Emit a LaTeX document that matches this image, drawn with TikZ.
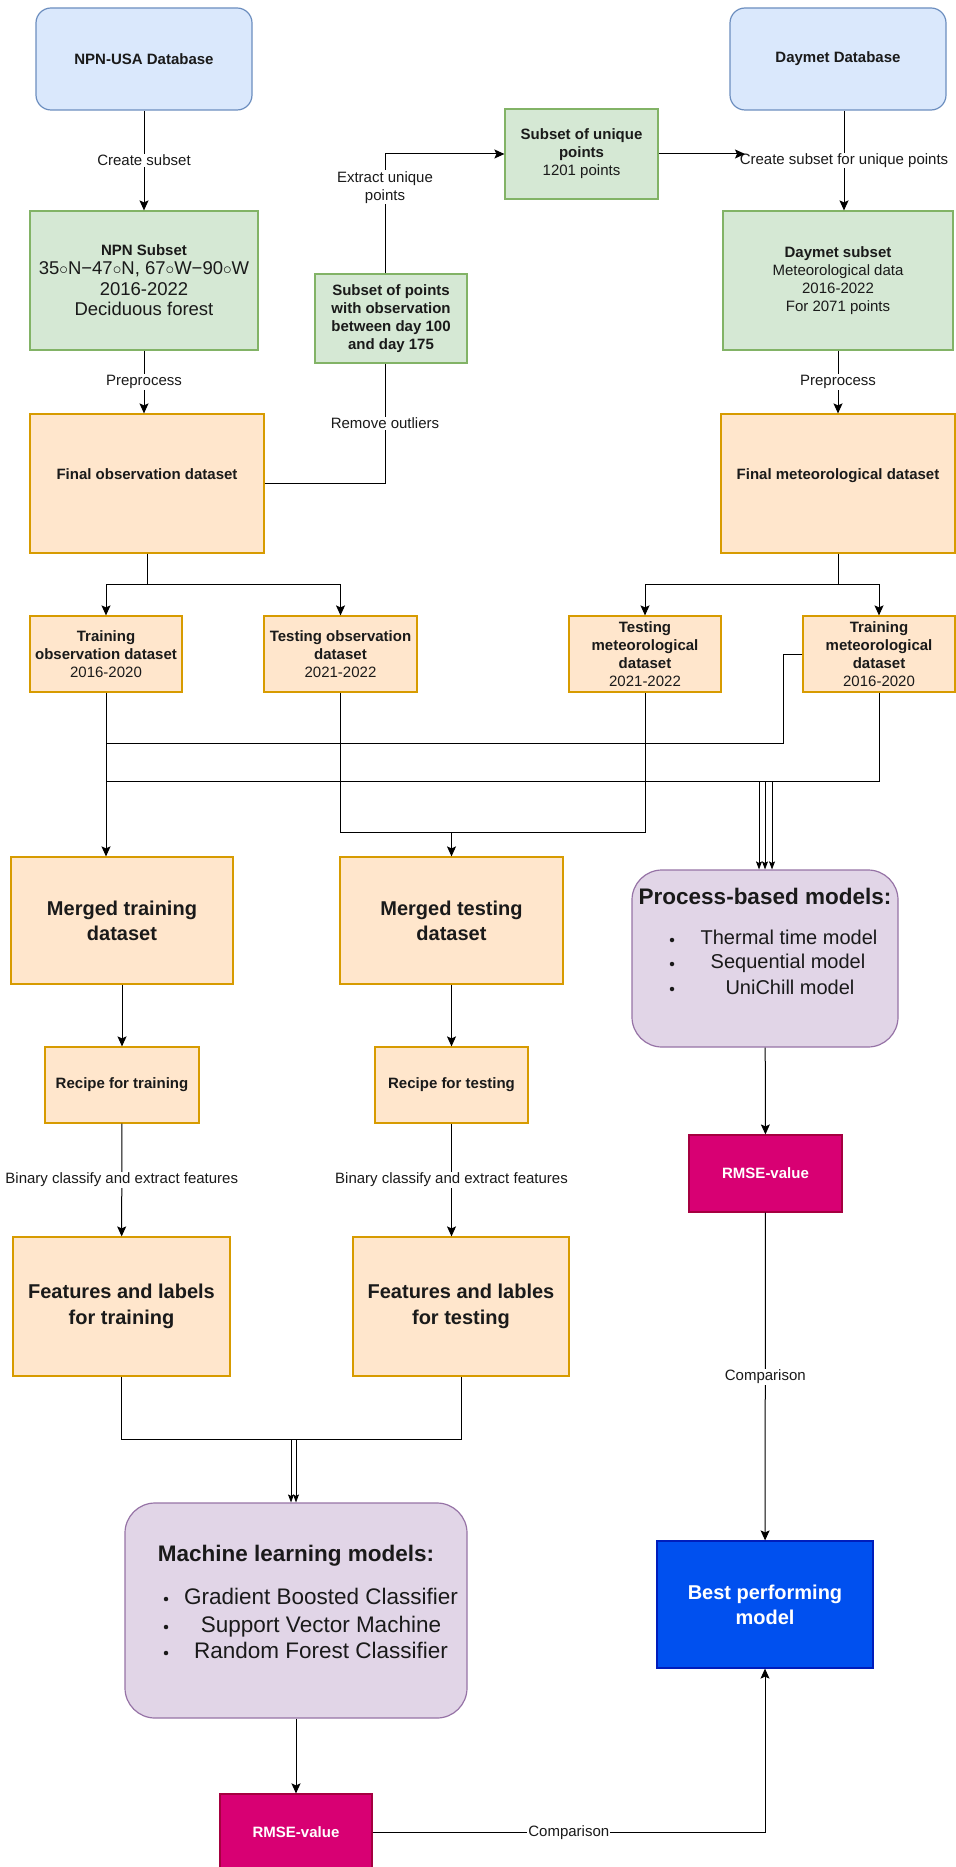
\documentclass[tikz,border=0pt]{standalone}
\usepackage{fontspec}
\setmainfont{Liberation Sans}
\usetikzlibrary{arrows.meta}
\usepackage{xcolor}

\definecolor{bluefill}{HTML}{DAE8FC}
\definecolor{blueline}{HTML}{6C8EBF}
\definecolor{greenfill}{HTML}{D5E8D4}
\definecolor{greenline}{HTML}{82B366}
\definecolor{orangefill}{HTML}{FFE6CC}
\definecolor{orangeline}{HTML}{D79B00}
\definecolor{purplefill}{HTML}{E1D5E7}
\definecolor{purpleline}{HTML}{9673A6}
\definecolor{rmsefill}{HTML}{D80073}
\definecolor{rmseline}{HTML}{A50040}
\definecolor{bestfill}{HTML}{0050EF}
\definecolor{bestline}{HTML}{001DBC}
\definecolor{txt}{HTML}{1A1A1A}

\newcommand{\setfs}[2]{\fontsize{#1}{#2}\selectfont}

\begin{document}
\begin{tikzpicture} [x=1pt,y=-1pt,->,>={Stealth[length=10pt,width=9pt,inset=2pt]},line width=1pt,
  box/.style={rectangle,draw,align=center,inner sep=2pt,line width=1.2pt,text=txt,font=\setfs{15}{18}},
  wh/.style 2 args={minimum width=#1pt,minimum height=#2pt},
  db/.style={box,fill=bluefill,draw=blueline,rounded corners=15pt,font=\setfs{15}{18}\bfseries},
  grn/.style={box,fill=greenfill,draw=greenline},
  org/.style={box,fill=orangefill,draw=orangeline},
  mdl/.style={box,fill=purplefill,draw=purpleline,rounded corners=30pt},
  rmse/.style={box,fill=rmsefill,draw=rmseline,text=white,font=\setfs{15}{18}\bfseries},
  lbl/.style={fill=white,inner sep=1pt,text=txt,align=center,font=\setfs{15}{18}},
  item/.style={anchor=base,inner sep=0pt,text=txt},
  blt/.style={circle,fill=txt,inner sep=0pt,minimum size=4.5pt},
  tri/.style={line width=0.8pt,-{Stealth[length=8pt,width=6pt,inset=1.5pt]}}]

  \useasboundingbox (0,0) rectangle (955,1867);

  \node[db,wh={216}{102}] (npndb) at (144,59) {NPN-USA Database};
  \node[db,wh={216}{102}] (daydb) at (838,59) {Daymet Database};
  \node[grn,wh={228}{139}] (npnsub) at (144,280.5) {\textbf{NPN Subset}\\[1pt] \setfs{18.5}{21}35$\circ$N−47$\circ$N, 67$\circ$W−90$\circ$W\\[2.5pt] \setfs{18.5}{21}2016-2022\\[2.5pt] \setfs{18.5}{21}Deciduous forest};
  \node[grn,wh={152}{89},font=\setfs{15}{18}\bfseries] (ptssub) at (391,318.5) {Subset of points\\ with observation\\ between day 100\\ and day 175};
  \node[grn,wh={153}{90}] (uniq) at (581.5,154) {\textbf{Subset of unique}\\ \textbf{points}\\ 1201 points};
  \node[grn,wh={230}{139}] (daysub) at (838,280.5) {\textbf{Daymet subset}\\ Meteorological data\\ 2016-2022\\ For 2071 points};
  \node[org,wh={234}{139},font=\setfs{15}{18}\bfseries] (finobs) at (147,483.5) {Final observation dataset\\ \mbox{}};
  \node[org,wh={234}{139},font=\setfs{15}{18}\bfseries] (finmet) at (838,483.5) {Final meteorological dataset\\ \mbox{}};
  \node[org,wh={152}{76}] (trobs) at (106,654) {\textbf{Training}\\ \textbf{observation dataset}\\ 2016-2020};
  \node[org,wh={153}{76}] (teobs) at (340.5,654) {\textbf{Testing observation}\\ \textbf{dataset}\\ 2021-2022};
  \node[org,wh={152}{76}] (temet) at (645,654) {\textbf{Testing}\\ \textbf{meteorological}\\ \textbf{dataset}\\ 2021-2022};
  \node[org,wh={152}{76}] (trmet) at (879,654) {\textbf{Training}\\ \textbf{meteorological}\\ \textbf{dataset}\\ 2016-2020};
  \node[org,wh={222}{127},font=\setfs{20}{25}\bfseries] (mtr) at (122,920.5) {Merged training\\ dataset};
  \node[org,wh={223}{127},font=\setfs{20}{25}\bfseries] (mte) at (451.5,920.5) {Merged testing\\ dataset};
  \node[mdl,wh={266}{177}] (pbm) at (765,958.5) {};
  \node[org,wh={154}{76},font=\setfs{15}{18}\bfseries] (rectr) at (122,1085) {Recipe for training};
  \node[org,wh={153}{76},font=\setfs{15}{18}\bfseries] (recte) at (451.5,1085) {Recipe for testing};
  \node[rmse,wh={153}{77}] (rmsep) at (765.5,1173.5) {RMSE-value};
  \node[org,wh={217}{139},font=\setfs{20}{26}\bfseries] (feattr) at (121.5,1306.5) {Features and labels\\ for training};
  \node[org,wh={216}{139},font=\setfs{20}{26}\bfseries] (featte) at (461,1306.5) {Features and lables\\ for testing};
  \node[mdl,wh={342}{215}] (ml) at (296,1610.5) {};
  \node[box,fill=bestfill,draw=bestline,text=white,wh={216}{127},font=\setfs{20}{25}\bfseries] (best) at (765,1604.5) {Best performing\\ model};
  \node[rmse,wh={152}{77}] (rmsem) at (296,1832.5) {RMSE-value};

  \node[item,font=\setfs{22.5}{27}\bfseries] (pbmhead) at (765,904) {Process-based models:};
  \node[item,font=\setfs{20}{24}] (pbm1) at (789,944) {Thermal time model};
  \node[item,font=\setfs{20}{24}] (pbm2) at (788,968) {Sequential model};
  \node[item,font=\setfs{20}{24}] (pbm3) at (790,994) {UniChill model};
  \node[blt] (pb1) at (672,940) {};
  \node[blt] (pb2) at (672,964) {};
  \node[blt] (pb3) at (672,989) {};

  \node[item,font=\setfs{22.5}{27}\bfseries] (mlhead) at (296,1561) {Machine learning models:};
  \node[item,font=\setfs{22.5}{27}] (ml1) at (321,1604) {Gradient Boosted Classifier};
  \node[item,font=\setfs{22.5}{27}] (ml2) at (321,1632) {Support Vector Machine};
  \node[item,font=\setfs{22.5}{27}] (ml3) at (321,1658) {Random Forest Classifier};
  \node[blt] (mb1) at (166,1599) {};
  \node[blt] (mb2) at (166,1627) {};
  \node[blt] (mb3) at (166,1653) {};

  \coordinate (uend) at (745,154);
  \coordinate (bus1) at (106,743);
  \coordinate (bus2) at (106,781);
  \coordinate (tebus) at (451.5,832);
  \coordinate (mlbus) at (293.5,1439);

  \path (npndb) edge node[lbl] (l1) {Create subset} (npnsub)
    (npnsub) edge node[lbl] (l2) {Preprocess} (npnsub |- finobs.north)
    (daysub) edge node[lbl] (l3) {Preprocess} (finmet)
    (mtr) edge (rectr)
    (mte) edge (recte)
    (rectr) edge node[lbl] (l4) {Binary classify and extract features} (feattr)
    (recte) edge node[lbl] (l5) {Binary classify and extract features} (recte |- featte.north)
    (pbm) edge (rmsep)
    (rmsep) edge node[lbl] (l6) {Comparison} (best)
    (ml) edge (rmsem);

  \draw ([xshift=6pt]daydb.south) -- ([xshift=6pt]daysub.north) node[lbl,midway] (l7) {Create subset for unique points};
  \draw (uniq) -- (uend);
  \draw[-] (finobs.east) -| ([xshift=-6pt]ptssub.south) node[lbl,pos=0.75] (l8) {Remove outliers};
  \draw ([xshift=-6pt]ptssub.north) |- (uniq) node[lbl,pos=0.36] (l9) {Extract unique\\ points};

  \draw (finobs.south) -- ++(0,31) -| (trobs);
  \draw (finobs.south) -- ++(0,31) -| (teobs);
  \draw (finmet.south) -- ++(0,31) -| (temet);
  \draw (finmet.south) -- ++(0,31) -| (trmet);

  \draw (trobs) -- (trobs |- mtr.north);
  \draw[-] (trmet.west) -- ++(-19,0) |- (bus1);
  \draw[-] (trmet.south) |- (bus2);
  \draw[tri] (759,0 |- bus2) -- (759,0 |- pbm.north);
  \draw[tri] (765,0 |- bus2) -- (765,0 |- pbm.north);
  \draw[tri] (772,0 |- bus2) -- (772,0 |- pbm.north);

  \draw[-] (teobs) |- ([yshift=-140pt]temet.south) -- (temet);
  \draw (tebus) -- (mte);

  \draw[-] (feattr) |- ([yshift=-63pt]featte.south) -- (featte);
  \draw[tri] ([xshift=-2.5pt]mlbus) -- ([xshift=-2.5pt]mlbus |- ml.north);
  \draw[tri] ([xshift=2.5pt]mlbus) -- ([xshift=2.5pt]mlbus |- ml.north);

  \draw (rmsem) -| (best) node[lbl,pos=0.25] (l10) {Comparison};

\end{tikzpicture}
\end{document}
